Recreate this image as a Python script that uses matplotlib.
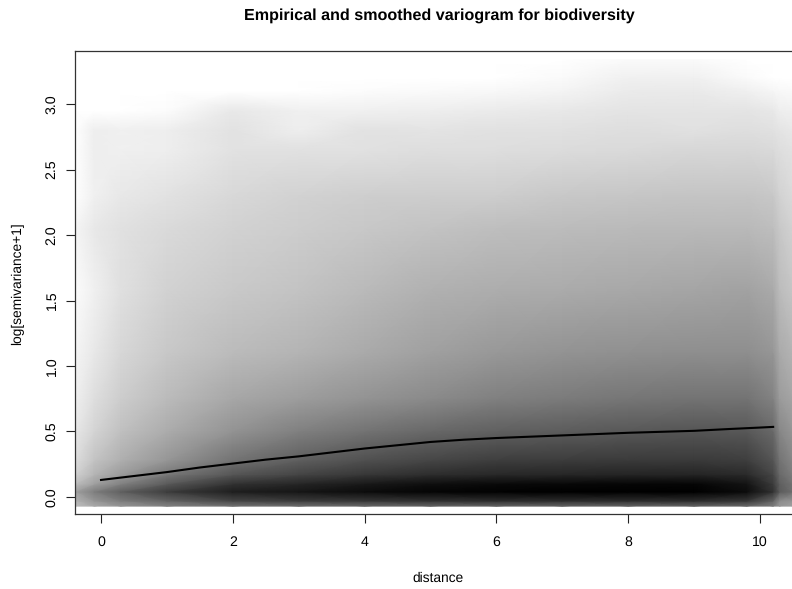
"""Empirical and smoothed variogram for biodiversity, density shown as gray image."""

import matplotlib

matplotlib.use("Agg")
import matplotlib.pyplot as plt
import numpy as np

plt.rcParams["font.family"] = ["Liberation Sans", "DejaVu Sans"]
plt.rcParams["text.hinting"] = "no_hinting"

# density grid (0 black, 255 white)
dist_grid = [-0.4, -0.1, 0.3, 1, 2, 3, 4, 5, 6, 7, 8, 9, 9.8, 10.2, 10.3, 10.5]
semi_grid = [-0.07, -0.03, 0.04, 0.10, 0.17, 0.28, 0.5, 0.75, 1.1, 1.58, 2.05, 2.3, 2.65, 2.8, 2.95, 3.1, 3.2, 3.34]
gray_a = [190, 170, 150, 130, 115, 110, 105, 100, 100, 100, 100, 100, 105, 125, 150, 160]
gray_b = [180, 150, 125, 100, 70, 60, 55, 50, 45, 45, 45, 45, 55, 100, 140, 150]
gray_c = [160, 125, 95, 60, 30, 22, 12, 5, 2, 0, 0, 0, 12, 50, 90, 110]
gray_d = [190, 160, 130, 90, 50, 38, 25, 15, 10, 8, 6, 6, 20, 60, 95, 115]
gray_e = [210, 180, 155, 120, 85, 68, 55, 45, 40, 38, 36, 36, 42, 70, 105, 125]
gray_f = [222, 195, 175, 150, 115, 95, 80, 70, 62, 60, 58, 58, 62, 85, 115, 135]
gray_g = [232, 212, 192, 172, 147, 128, 115, 104, 96, 92, 88, 85, 88, 105, 135, 150]
gray_h = [240, 222, 205, 187, 167, 157, 147, 138, 128, 123, 118, 115, 115, 130, 155, 165]
gray_i = [245, 232, 215, 200, 187, 180, 170, 160, 152, 147, 144, 142, 142, 150, 170, 180]
gray_j = [252, 240, 224, 210, 201, 195, 186, 177, 173, 171, 168, 165, 162, 170, 188, 198]
gray_k = [245, 232, 225, 218, 210, 205, 200, 195, 190, 188, 186, 185, 185, 190, 200, 210]
gray_l = [255, 240, 232, 226, 216, 210, 206, 205, 205, 200, 198, 196, 196, 200, 210, 218]
gray_m = [255, 238, 240, 238, 226, 225, 225, 222, 222, 220, 218, 215, 215, 218, 222, 226]
gray_n = [255, 238, 240, 238, 226, 238, 226, 228, 225, 225, 222, 225, 222, 225, 228, 232]
gray_o = [255, 255, 255, 252, 232, 240, 240, 238, 235, 232, 228, 228, 228, 232, 238, 240]
gray_p = [255, 255, 255, 255, 255, 255, 252, 250, 248, 244, 235, 234, 240, 246, 248, 250]
gray_q = [255, 255, 255, 255, 255, 255, 255, 255, 255, 250, 240, 240, 250, 255, 255, 255]
gray_r = [255, 255, 255, 255, 255, 255, 255, 255, 255, 255, 250, 250, 255, 255, 255, 255]

# smoothed variogram line
smooth_x = [0, 0.5, 1, 1.5, 2, 2.5, 3, 3.5, 4, 4.5, 5, 5.5, 6, 7, 8, 9, 9.5, 10, 10.2]
smooth_y = [0.13, 0.16, 0.19, 0.225, 0.255, 0.285, 0.31, 0.34, 0.37, 0.395, 0.42, 0.437, 0.45, 0.47, 0.49, 0.505, 0.518, 0.53, 0.535]

x_ticks = [0, 2, 4, 6, 8, 10]
y_ticks = [0.0, 0.5, 1.0, 1.5, 2.0, 2.5, 3.0]

gray_rows = np.array([
    gray_a, gray_b, gray_c, gray_d, gray_e, gray_f, gray_g, gray_h, gray_i,
    gray_j, gray_k, gray_l, gray_m, gray_n, gray_o, gray_p, gray_q, gray_r,
])


def main() -> None:
    fig = plt.figure(figsize=(7.92, 5.89), dpi=100)
    ax = fig.add_axes([75 / 792, 1 - 514 / 589, (792 - 75) / 792 + 0.002, (514 - 51) / 589])

    ax.pcolormesh(dist_grid, semi_grid, gray_rows, cmap="gray", vmin=0, vmax=255, shading="gouraud")
    ax.plot(smooth_x, smooth_y, color="black", linewidth=1.5)

    ax.set_xlim(-0.395, 10.51)
    ax.set_ylim(-0.13, 3.405)
    ax.set_xticks(x_ticks)
    ax.set_yticks(y_ticks)
    ax.set_yticklabels([f"{v:.1f}" for v in y_ticks], rotation=90, va="center")
    ax.tick_params(length=6.5, width=0.8, labelsize=10.2, color="#222222")
    ax.tick_params(axis="x", pad=9)
    ax.tick_params(axis="y", pad=5.5)
    for spine in ax.spines.values():
        spine.set_linewidth(0.9)
        spine.set_color("#333333")

    fig.text(438 / 792, 1 - 578 / 589, "distance", ha="center", va="center", fontsize=9.9)
    fig.text(18 / 792, 1 - 284 / 589, "log[semivariance+1]", rotation=90, ha="center", va="center", fontsize=9.9)
    fig.text(439 / 792, 1 - 16 / 589, "Empirical and smoothed variogram for biodiversity",
             ha="center", va="center", fontsize=11.6, fontweight="bold")

    fig.savefig("out.png", dpi=100)


if __name__ == "__main__":
    main()
